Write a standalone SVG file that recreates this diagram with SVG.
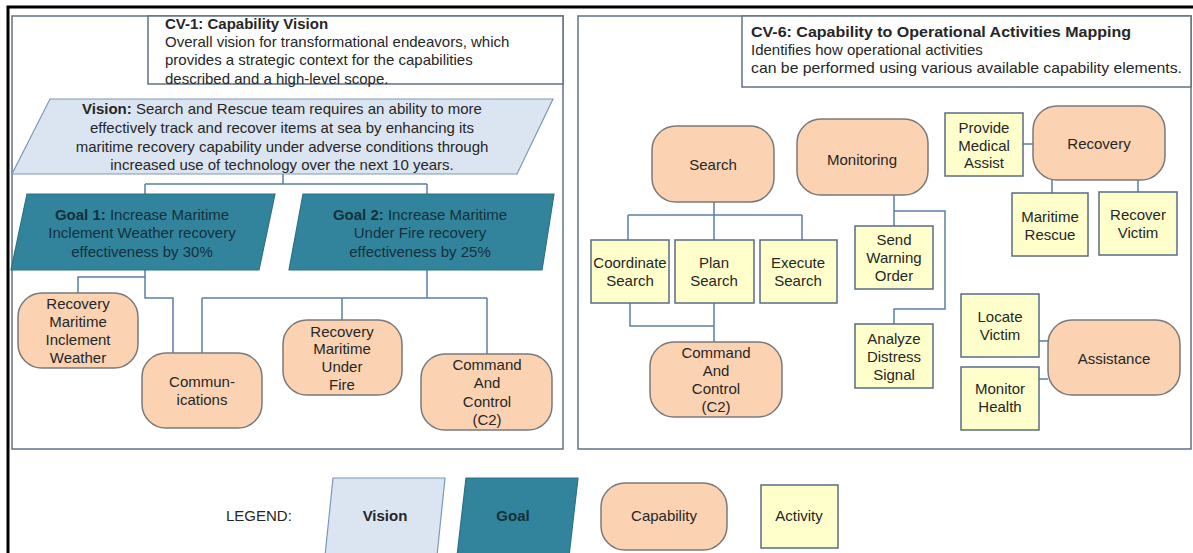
<svg xmlns="http://www.w3.org/2000/svg" width="1193" height="553" viewBox="0 0 1193 553">
<style>
text{font-family:"Liberation Sans",Arial,sans-serif;font-size:15px;fill:#262626}
.c{text-anchor:middle}
.b{font-weight:bold}
.gt{fill:#15303c}
.panel{fill:#fff;stroke:#5f7286;stroke-width:1.5}
.cap{fill:#fbd3b3;stroke:#7a7a7a;stroke-width:1.5}
.act{fill:#ffffcc;stroke:#5a6c84;stroke-width:1.5}
.vis{fill:#dbe5f1;stroke:#7d98b8;stroke-width:1.2}
.goal{fill:#31849b;stroke:#2b7189;stroke-width:1.2}
.conn{fill:none;stroke:#5b7ea6;stroke-width:1.5}
</style>
<rect width="1193" height="553" fill="#fff"/>
<path d="M8,553 V7 H1193" fill="none" stroke="#000" stroke-width="3"/>
<g id="panel-cv1">
<rect class="panel" x="12" y="16" width="551" height="433"/>
<rect class="panel" x="148" y="16" width="415" height="68"/>
<text x="165" y="29" class="b">CV-1: Capability Vision</text>
<text x="165" y="47">Overall vision for transformational endeavors, which</text>
<text x="165" y="65">provides a strategic context for the capabilities</text>
<text x="165" y="84">described and a high-level scope.</text>
</g>
<g id="panel-cv6">
<rect class="panel" x="578" y="16" width="613" height="433"/>
<rect class="panel" x="742" y="16" width="449" height="71"/>
<text x="751" y="37" class="b" textLength="380" lengthAdjust="spacingAndGlyphs">CV-6:  Capability to Operational Activities Mapping</text>
<text x="751" y="55">Identifies how operational activities</text>
<text x="751" y="73" textLength="431" lengthAdjust="spacingAndGlyphs">can be performed using various available capability elements.</text>
</g>
<g id="connectors">
<path class="conn" d="M283,174 V184 M145,184 H427 M145,184 V194 M427,184 V194"/>
<path class="conn" d="M145,270 V298 H173 V353 M78,293 V277 H145"/>
<path class="conn" d="M427,270 V298 M202,298 H487 M202,298 V353 M342,298 V320 M487,298 V354"/>
<path class="conn" d="M714,202 V215 M628,215 H802 M628,215 V240 M714,215 V240 M802,215 V240"/>
<path class="conn" d="M630,303 V326 H714 M714,303 V342"/>
<path class="conn" d="M894,195 V226 M894,211 H945 V309 H894 V324"/>
<path class="conn" d="M1023,144 H1033 M1052,180 V193 M1138,180 V192 M1039,341 H1048 M1039,379 H1048"/>
</g>
<g id="vision">
<polygon class="vis" points="50,99 553,99 517,174 12,174"/>
<text x="282" y="114" class="c"><tspan class="b">Vision:</tspan>  Search and Rescue team requires an ability to more</text>
<text x="282" y="133" class="c">effectively track and recover items at sea by enhancing its</text>
<text x="282" y="152" class="c">maritime recovery capability under adverse conditions through</text>
<text x="282" y="170" class="c">increased use of technology over the next 10 years.</text>
</g>
<g id="goal1">
<polygon class="goal" points="27,194 275,194 259,270 11,270"/>
<text x="142" y="220" class="c gt"><tspan class="b">Goal 1:</tspan>  Increase Maritime</text>
<text x="142" y="238" class="c gt">Inclement Weather recovery</text>
<text x="142" y="257" class="c gt">effectiveness by 30%</text>
</g>
<g id="goal2">
<polygon class="goal" points="303,194 554,194 542,270 289,270"/>
<text x="420" y="220" class="c gt"><tspan class="b">Goal 2:</tspan>  Increase Maritime</text>
<text x="420" y="238" class="c gt">Under Fire recovery</text>
<text x="420" y="257" class="c gt">effectiveness by 25%</text>
</g>
<g id="cap-recovery-inclement">
<rect class="cap" x="18" y="293" width="120" height="75" rx="24"/>
<text x="78" y="309" class="c">Recovery</text>
<text x="78" y="327" class="c">Maritime</text>
<text x="78" y="345" class="c">Inclement</text>
<text x="78" y="363" class="c">Weather</text>
</g>
<g id="cap-communications">
<rect class="cap" x="142" y="353" width="120" height="75" rx="24"/>
<text x="202" y="387" class="c">Commun-</text>
<text x="202" y="405" class="c">ications</text>
</g>
<g id="cap-recovery-fire">
<rect class="cap" x="283" y="320" width="119" height="75" rx="24"/>
<text x="342" y="337" class="c">Recovery</text>
<text x="342" y="354" class="c">Maritime</text>
<text x="342" y="372" class="c">Under</text>
<text x="342" y="390" class="c">Fire</text>
</g>
<g id="cap-c2-left">
<rect class="cap" x="421" y="354" width="131" height="76" rx="24"/>
<text x="487" y="370" class="c">Command</text>
<text x="487" y="388" class="c">And</text>
<text x="487" y="407" class="c">Control</text>
<text x="487" y="425" class="c">(C2)</text>
</g>
<g id="cap-search">
<rect class="cap" x="652" y="126" width="122" height="76" rx="24"/>
<text x="713" y="170" class="c">Search</text>
</g>
<g id="cap-monitoring">
<rect class="cap" x="797" y="119" width="131" height="76" rx="24"/>
<text x="862" y="165" class="c">Monitoring</text>
</g>
<g id="cap-recovery">
<rect class="cap" x="1033" y="106" width="132" height="74" rx="24"/>
<text x="1099" y="149" class="c">Recovery</text>
</g>
<g id="cap-assistance">
<rect class="cap" x="1048" y="320" width="132" height="75" rx="24"/>
<text x="1114" y="364" class="c">Assistance</text>
</g>
<g id="cap-c2-right">
<rect class="cap" x="650" y="342" width="132" height="75" rx="24"/>
<text x="716" y="358" class="c">Command</text>
<text x="716" y="376" class="c">And</text>
<text x="716" y="394" class="c">Control</text>
<text x="716" y="412" class="c">(C2)</text>
</g>
<g id="act-provide-medical">
<rect class="act" x="945" y="113" width="78" height="63"/>
<text x="984" y="133" class="c">Provide</text>
<text x="984" y="151" class="c">Medical</text>
<text x="984" y="168" class="c">Assist</text>
</g>
<g id="act-maritime-rescue">
<rect class="act" x="1012" y="193" width="76" height="63"/>
<text x="1050" y="222" class="c">Maritime</text>
<text x="1050" y="240" class="c">Rescue</text>
</g>
<g id="act-recover-victim">
<rect class="act" x="1099" y="192" width="78" height="63"/>
<text x="1138" y="220" class="c">Recover</text>
<text x="1138" y="238" class="c">Victim</text>
</g>
<g id="act-locate-victim">
<rect class="act" x="961" y="294" width="78" height="63"/>
<text x="1000" y="322" class="c">Locate</text>
<text x="1000" y="340" class="c">Victim</text>
</g>
<g id="act-monitor-health">
<rect class="act" x="961" y="367" width="78" height="63"/>
<text x="1000" y="394" class="c">Monitor</text>
<text x="1000" y="412" class="c">Health</text>
</g>
<g id="act-coordinate-search">
<rect class="act" x="591" y="240" width="78" height="63"/>
<text x="630" y="268" class="c">Coordinate</text>
<text x="630" y="286" class="c">Search</text>
</g>
<g id="act-plan-search">
<rect class="act" x="675" y="240" width="79" height="63"/>
<text x="714" y="268" class="c">Plan</text>
<text x="714" y="286" class="c">Search</text>
</g>
<g id="act-execute-search">
<rect class="act" x="760" y="240" width="77" height="63"/>
<text x="798" y="268" class="c">Execute</text>
<text x="798" y="286" class="c">Search</text>
</g>
<g id="act-send-warning">
<rect class="act" x="855" y="226" width="78" height="63"/>
<text x="894" y="245" class="c">Send</text>
<text x="894" y="263" class="c">Warning</text>
<text x="894" y="281" class="c">Order</text>
</g>
<g id="act-analyze-distress">
<rect class="act" x="855" y="324" width="78" height="64"/>
<text x="894" y="344" class="c">Analyze</text>
<text x="894" y="362" class="c">Distress</text>
<text x="894" y="380" class="c">Signal</text>
</g>
<g id="legend">
<text x="226" y="521">LEGEND:</text>
<polygon class="vis" points="333,478 445,478 437,556 325,556"/>
<text x="385" y="521" class="c b">Vision</text>
<polygon class="goal" points="466,478 578,478 569,556 457,556"/>
<text x="513" y="521" class="c b gt">Goal</text>
<rect class="cap" x="601" y="483" width="126" height="67" rx="24"/>
<text x="664" y="521" class="c">Capability</text>
<rect class="act" x="761" y="485" width="77" height="63"/>
<text x="799" y="521" class="c">Activity</text>
</g>
</svg>
